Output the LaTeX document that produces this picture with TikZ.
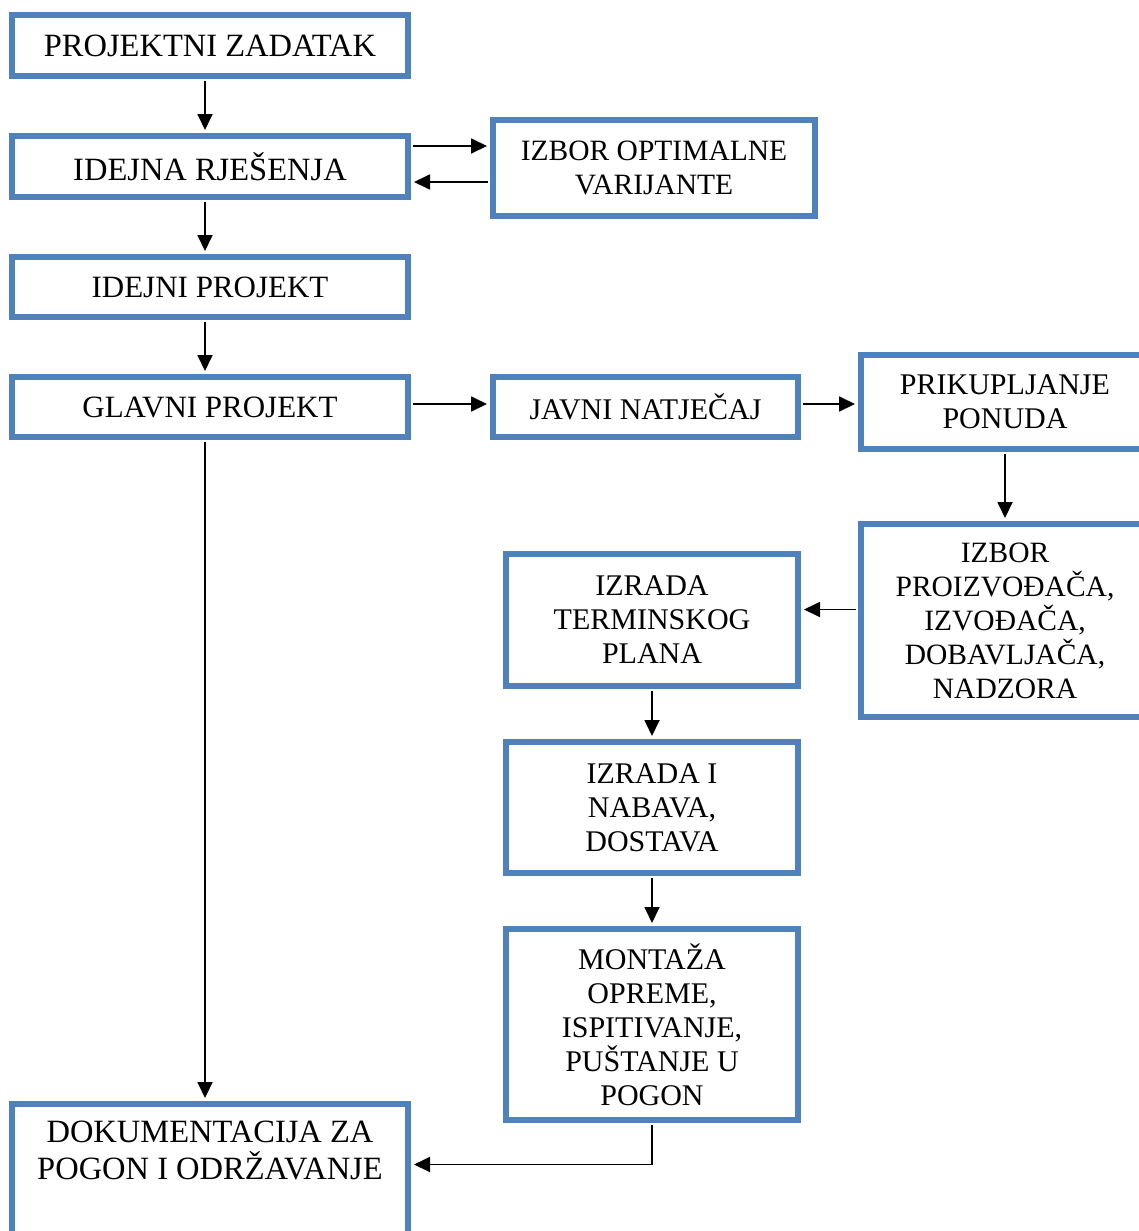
\documentclass[tikz,border=0pt]{standalone}
\usepackage{fontspec}
\setmainfont{Liberation Serif}
\usetikzlibrary{arrows.meta,calc}
\definecolor{boxblue}{RGB}{79,129,189}
\begin{document}
\begin{tikzpicture}[x=1pt,y=-1pt,
  box/.style={draw=boxblue, line width=6pt, fill=white, align=center, inner sep=0pt,
    font=\fontsize{30}{34}\selectfont},
  lbox/.style={box, font=\fontsize{32.5}{34}\selectfont},
  arr/.style={line width=1.8pt, -{Triangle[length=16pt,width=15pt]}, shorten >=3pt, shorten <=2pt}]
\clip (0,0) rectangle (1139,1231);
\fill[white] (0,0) rectangle (1139,1231);
\node[lbox, minimum width=396pt, minimum height=61pt] (pz) at (210,45.5) {PROJEKTNI ZADATAK};
\node[lbox, minimum width=396pt, minimum height=61pt] (ir) at (210,166.5) {IDEJNA RJEŠENJA};
\node[lbox, minimum width=396pt, minimum height=60pt, font=\fontsize{31}{34}\selectfont] (ip) at (210,287) {IDEJNI PROJEKT};
\node[lbox, minimum width=396pt, minimum height=60pt, font=\fontsize{31}{34}\selectfont] (gp) at (210,407) {GLAVNI PROJEKT};
\node[box, minimum width=322pt, minimum height=96pt, font=\fontsize{29.5}{34}\selectfont] (iov) at (654,168) {IZBOR OPTIMALNE\\VARIJANTE};
\node[box, minimum width=305pt, minimum height=60pt] (jn) at (645.5,407) {JAVNI NATJEČAJ};
\node[box, minimum width=288pt, minimum height=94pt] (pp) at (1005,402) {PRIKUPLJANJE\\PONUDA};
\node[box, minimum width=288pt, minimum height=193pt, font=\fontsize{29.5}{34}\selectfont] (ipro) at (1005,620.5) {IZBOR\\PROIZVOĐAČA,\\IZVOĐAČA,\\DOBAVLJAČA,\\NADZORA};
\node[box, minimum width=292pt, minimum height=132pt] (itp) at (652,620) {IZRADA\\TERMINSKOG\\PLANA};
\node[box, minimum width=292pt, minimum height=131pt] (ina) at (652,807.5) {IZRADA I\\NABAVA,\\DOSTAVA};
\node[box, minimum width=292pt, minimum height=191pt] (mon) at (652,1024.5) {MONTAŽA\\OPREME,\\ISPITIVANJE,\\PUŠTANJE U\\POGON};
\node[lbox, minimum width=396pt, minimum height=141pt, font=\fontsize{32.5}{37}\selectfont] (dok) at (210,1174.5) {DOKUMENTACIJA ZA\\POGON I ODRŽAVANJE\\\strut};
% connectors
\draw[arr] ([xshift=-5pt]pz.south) -- ([xshift=-5pt]ir.north);
\draw[arr] ([xshift=-5pt]ir.south) -- ([xshift=-5pt]ip.north);
\draw[arr] ([xshift=-5pt]ip.south) -- ([xshift=-5pt]gp.north);
\draw[arr] ([xshift=-5pt]gp.south) -- ([xshift=-5pt]dok.north);
\draw[arr] ([yshift=20.5pt]ir.east) -- ([yshift=20.5pt]ir.east -| iov.west);
\draw[arr] ([yshift=-14pt]iov.west) -- ([yshift=-14pt]iov.west -| ir.east);
\draw[arr] ([yshift=3pt]gp.east) -- ([yshift=3pt]gp.east -| jn.west);
\draw[arr] ([yshift=3pt]jn.east) -- ([yshift=3pt]jn.east -| pp.west);
\draw[arr] (pp.south) -- (ipro.north);
\draw[arr] ([yshift=11pt]ipro.west) -- ([yshift=11pt]ipro.west -| itp.east);
\draw[arr] (itp.south) -- (ina.north);
\draw[arr] (ina.south) -- (mon.north);
\draw[arr] (mon.south) |- ([yshift=10pt]dok.east);
\end{tikzpicture}
\end{document}
